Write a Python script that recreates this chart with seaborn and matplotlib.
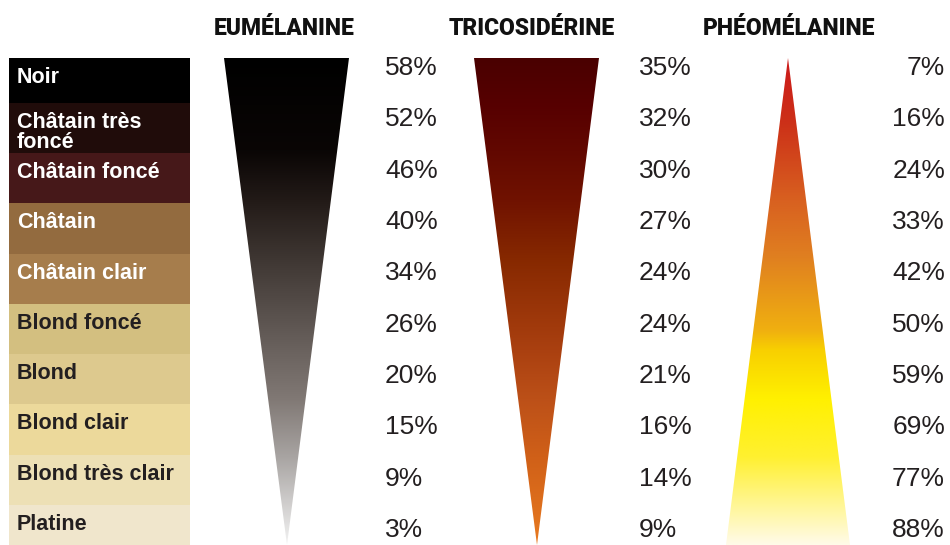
import numpy as np
import pandas as pd
import seaborn as sns
import matplotlib.pyplot as plt
from matplotlib.colors import LinearSegmentedColormap
from matplotlib.patches import Polygon

# teintes de cheveux et couleur de la pastille
teintes = ["Noir", "Châtain très\nfoncé", "Châtain foncé", "Châtain", "Châtain clair",
           "Blond foncé", "Blond", "Blond clair", "Blond très clair", "Platine"]
couleurs = ["#000000", "#200c0a", "#461819", "#936b3f", "#a67d4c",
            "#d3bf80", "#ddc98e", "#ecd99b", "#ede0b5", "#f0e6cc"]

# pigments (%) par teinte
eumelanine = [58, 52, 46, 40, 34, 26, 20, 15, 9, 3]
tricosiderine = [35, 32, 30, 27, 24, 24, 21, 16, 14, 9]
pheomelanine = [7, 16, 24, 33, 42, 50, 59, 69, 77, 88]

sns.set_theme(style="white")
plt.rcParams['font.family'] = ['Liberation Sans', 'DejaVu Sans']

fig = plt.figure(figsize=(9.5, 5.45), dpi=100)
ax = fig.add_axes([0, 0, 1, 487 / 545])

df = pd.DataFrame({"teinte": teintes, "largeur": [181] * len(teintes)})
sns.barplot(data=df, y="teinte", x="largeur", hue="teinte", palette=couleurs,
            width=1, orient="h", saturation=1, legend=False, linewidth=0, ax=ax)

y_top, y_bot = -0.395, 9.3

def wedge(verts, stops, x0, x1):
    cmap = LinearSegmentedColormap.from_list("g", stops)
    poly = Polygon(verts, closed=True, facecolor="none", edgecolor="none")
    ax.add_patch(poly)
    im = ax.imshow(np.linspace(0, 1, 256).reshape(-1, 1), cmap=cmap, aspect="auto",
                   extent=[x0, x1, y_bot, y_top], origin="upper", interpolation="bilinear")
    im.set_clip_path(poly)

wedge([(215, y_top), (340, y_top), (278, y_bot)],
      [(0, "#000000"), (0.19, "#0a0605"), (0.29, "#221a17"), (0.41, "#3e3632"),
       (0.6, "#6a625e"), (0.7, "#807874"), (0.82, "#a8a4a2"), (1, "#f2f2f2")], 210, 345)
wedge([(465, y_top), (590, y_top), (528, y_bot)],
      [(0, "#4a0000"), (0.09, "#560000"), (0.19, "#620800"), (0.29, "#701200"),
       (0.41, "#862800"), (0.6, "#aa4010"), (0.7, "#bc5018"), (0.82, "#d06018"),
       (1, "#e87a20")], 460, 595)
wedge([(779, y_top), (717, y_bot), (841, y_bot)],
      [(0, "#cc1a1a"), (0.13, "#cc3018"), (0.29, "#d86020"), (0.41, "#e08020"),
       (0.56, "#f0b010"), (0.6, "#f8d000"), (0.7, "#fff000"), (0.82, "#fff030"),
       (1, "#fffbe8")], 712, 846)

ax.set_xlim(-9, 941)
ax.set_ylim(y_bot, y_top)
ax.axis("off")

# libellés des teintes
for i, t in enumerate(teintes):
    ax.text(8, max(i - 0.5, y_top) + 9 / 50.25, t, va="top", ha="left", fontsize=15.5,
            fontweight="bold", linespacing=0.95,
            color="white" if i < 5 else "#231f20")

# pourcentages
ypos = -0.196 + np.arange(len(teintes)) * 1.0216
pct = dict(fontsize=19, color="#231f20", va="center")
for i in range(len(teintes)):
    ax.text(376, ypos[i], f"{eumelanine[i]}%", ha="left", **pct)
    ax.text(630, ypos[i], f"{tricosiderine[i]}%", ha="left", **pct)
    ax.text(936, ypos[i], f"{pheomelanine[i]}%", ha="right", **pct)

# titres
for xc, titre in [(275, "EUMÉLANINE"), (523, "TRICOSIDÉRINE"), (780, "PHÉOMÉLANINE")]:
    ax.text(xc, -0.99, titre, ha="center", va="center", fontsize=16.5,
            fontweight="heavy", family=['Roboto', 'DejaVu Sans'],
            color="#111111")

fig.savefig("out.png", dpi=100)
